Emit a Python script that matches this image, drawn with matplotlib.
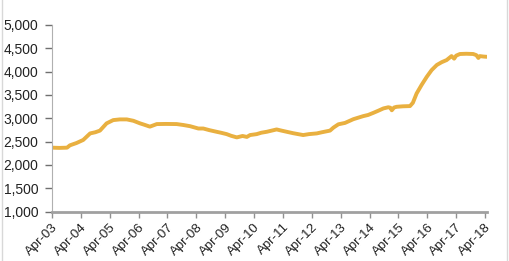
import matplotlib.pyplot as plt
from matplotlib.lines import Line2D

# decimal year (Apr = .25) and index level
years = [2003.25, 2003.5, 2003.77, 2003.87, 2004.1, 2004.33, 2004.57, 2004.75, 2004.91,
         2005.14, 2005.37, 2005.6, 2005.84, 2006.07, 2006.3, 2006.45, 2006.64, 2006.88,
         2007.2, 2007.57, 2007.8, 2008.03, 2008.32, 2008.49, 2008.7, 2008.95, 2009.1,
         2009.3, 2009.45, 2009.65, 2009.85, 2010.0, 2010.11, 2010.34, 2010.5, 2010.69,
         2011.03, 2011.2, 2011.38, 2011.6, 2011.95, 2012.15, 2012.42, 2012.6, 2012.88,
         2013.0, 2013.17, 2013.4, 2013.69, 2014.03, 2014.2, 2014.38, 2014.55, 2014.73,
         2014.9, 2014.97, 2015.02, 2015.1, 2015.19, 2015.4, 2015.65, 2015.75, 2015.88,
         2016.05, 2016.23, 2016.4, 2016.58, 2016.75, 2016.92, 2017.09, 2017.18, 2017.25,
         2017.38, 2017.6, 2017.84, 2017.95, 2018.02, 2018.07, 2018.2, 2018.31]
values = [2370, 2365, 2370, 2420, 2470, 2535, 2675, 2700, 2735,
          2890, 2960, 2975, 2975, 2945, 2890, 2860, 2820, 2875,
          2878, 2875, 2855, 2830, 2780, 2780, 2745, 2710, 2690,
          2660, 2625, 2590, 2620, 2600, 2640, 2660, 2690, 2710,
          2760, 2735, 2710, 2680, 2640, 2660, 2675, 2700, 2735,
          2800, 2870, 2900, 2980, 3045, 3070, 3115, 3160, 3210,
          3235, 3225, 3170, 3230, 3245, 3255, 3260, 3330, 3530,
          3710, 3885, 4030, 4140, 4200, 4245, 4330, 4275, 4340,
          4375, 4380, 4375, 4350, 4290, 4330, 4320, 4315]

tick_years = list(range(2003, 2019))
tick_labels = ["Apr-%02d" % (y % 100) for y in tick_years]
y_ticks = list(range(1000, 5001, 500))

fig = plt.figure(figsize=(5.1, 2.61), dpi=100)
ax = fig.add_axes([0.102, 0.189, 0.853, 0.716])

ax.plot(years, values, color="#E9B040", lw=2.8, solid_capstyle="round")

ax.set_xlim(2003.25, 2018.32)
ax.set_ylim(1000, 5000)
ax.set_xticks([y + 0.25 for y in tick_years])
ax.set_xticklabels(tick_labels, rotation=45, ha="right", rotation_mode="anchor",
                   fontsize=9.5, family="Liberation Sans", color="#222222")
ax.set_yticks(y_ticks)
ax.set_yticklabels(["{:,}".format(v) for v in y_ticks], fontsize=10,
                   family="Liberation Sans", color="#222222")

for s in ["top", "right"]:
    ax.spines[s].set_visible(False)
ax.spines["left"].set_color("#b0b0b0")
ax.spines["left"].set_linewidth(0.8)
ax.spines["bottom"].set_color("#a0a0a0")
ax.spines["bottom"].set_linewidth(2)
ax.tick_params(axis="y", length=5, width=1, color="#707070", pad=5)
ax.tick_params(axis="x", length=4, width=1, color="#909090", pad=3)

# thin frame lines at the picture edges
fig.add_artist(Line2D([0.003, 0.003], [0, 1], transform=fig.transFigure, color="#d8d8d8", lw=1))
fig.add_artist(Line2D([0.995, 0.995], [0, 1], transform=fig.transFigure, color="#d8d8d8", lw=1))

fig.savefig("out.png", dpi=100)
